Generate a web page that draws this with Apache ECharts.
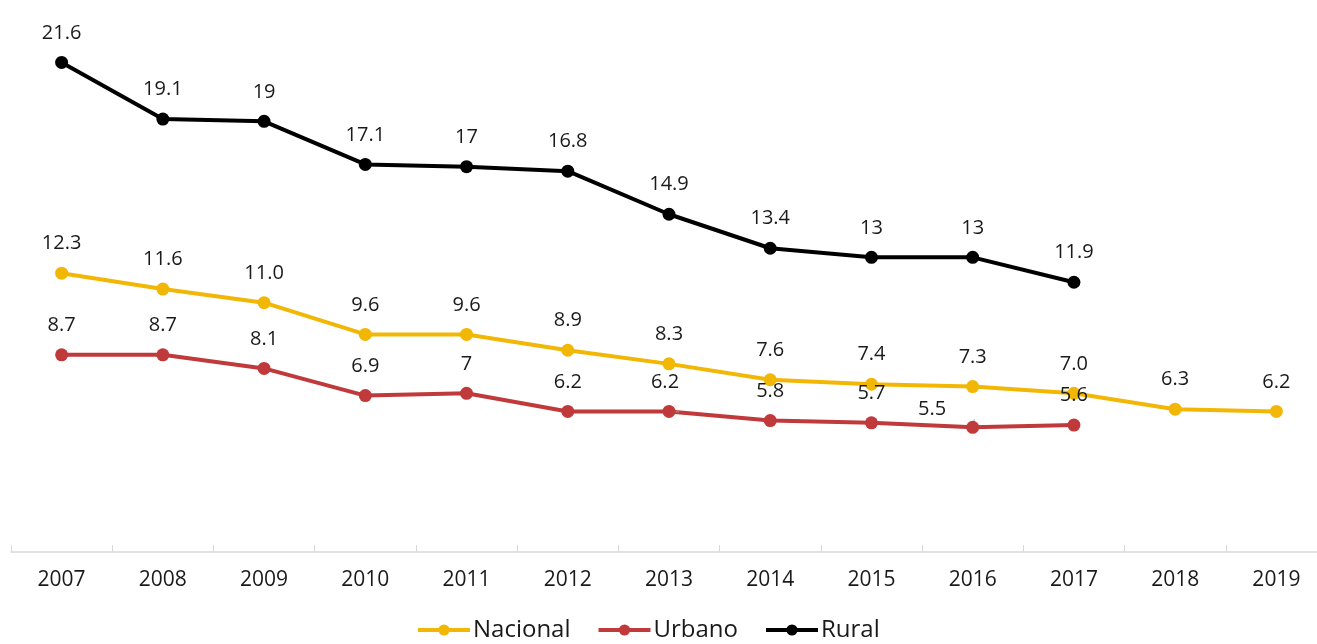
<!DOCTYPE html>
<html>
<head>
<meta charset="utf-8">
<script src="https://cdn.jsdelivr.net/npm/echarts@6/dist/echarts.min.js"></script>
<style>
html,body{margin:0;padding:0;background:#fff;overflow:hidden;}
#chart{width:1330px;height:644px;}
</style>
</head>
<body>
<div id="chart"></div>
<script>
const years = ['2007','2008','2009','2010','2011','2012','2013','2014','2015','2016','2017','2018','2019'];
const nacional = [12.3, 11.6, 11.0, 9.6, 9.6, 8.9, 8.3, 7.6, 7.4, 7.3, 7.0, 6.3, 6.2];
const urbano = [8.7, 8.7, 8.1, 6.9, 7, 6.2, 6.2, 5.8, 5.7, 5.5, 5.6];
const rural = [21.6, 19.1, 19, 17.1, 17, 16.8, 14.9, 13.4, 13, 13, 11.9];

const FONT = '"Open Sans", "Noto Sans", sans-serif';
const chart = echarts.init(document.getElementById('chart'));

const labelBase = {show: true, position: 'top', distance: 13, color: '#1a1a1a', fontSize: 20, fontFamily: FONT};

const urbanoData = urbano.map((v, i) => {
  if (i === 6) return {value: v, label: {offset: [-4, 0]}, labelLine: {show: true, lineStyle: {color: '#999', width: 1}}};
  if (i === 9) return {value: v, label: {position: 'left', distance: 18, offset: [-2, -18]}, labelLine: {show: true, lineStyle: {color: '#999', width: 1}}};
  return v;
});

chart.setOption({
  animation: false,
  grid: {left: 11, right: 3, top: 8, bottom: 92},
  legend: {
    bottom: -3, left: 411, itemWidth: 52, itemHeight: 14, itemGap: 26,
    lineStyle: {width: 4},
    textStyle: {color: '#1a1a1a', fontSize: 24, fontFamily: FONT, padding: [0, 0, 0, -2]},
    data: ['Nacional', 'Urbano', 'Rural']
  },
  xAxis: {
    type: 'category', data: years, boundaryGap: true,
    axisLine: {lineStyle: {color: '#d9d9d9', width: 1.5}},
    axisTick: {show: true, inside: true, length: 7, lineStyle: {color: '#d9d9d9'}},
    axisLabel: {color: '#1a1a1a', fontSize: 21, fontFamily: FONT, margin: 18}
  },
  yAxis: {type: 'value', min: 0, max: 24, show: false, splitLine: {show: false}},
  series: [
    {name: 'Nacional', type: 'line', data: nacional, color: '#F2B705',
     lineStyle: {width: 4}, symbol: 'circle', symbolSize: 13,
     label: Object.assign({}, labelBase, {formatter: p => Number(p.value).toFixed(1)})},
    {name: 'Urbano', type: 'line', data: urbanoData, color: '#C0393B',
     lineStyle: {width: 4}, symbol: 'circle', symbolSize: 13,
     label: Object.assign({}, labelBase)},
    {name: 'Rural', type: 'line', data: rural, color: '#000000',
     lineStyle: {width: 4}, symbol: 'circle', symbolSize: 13,
     label: Object.assign({}, labelBase)}
  ]
});
</script>
</body>
</html>
